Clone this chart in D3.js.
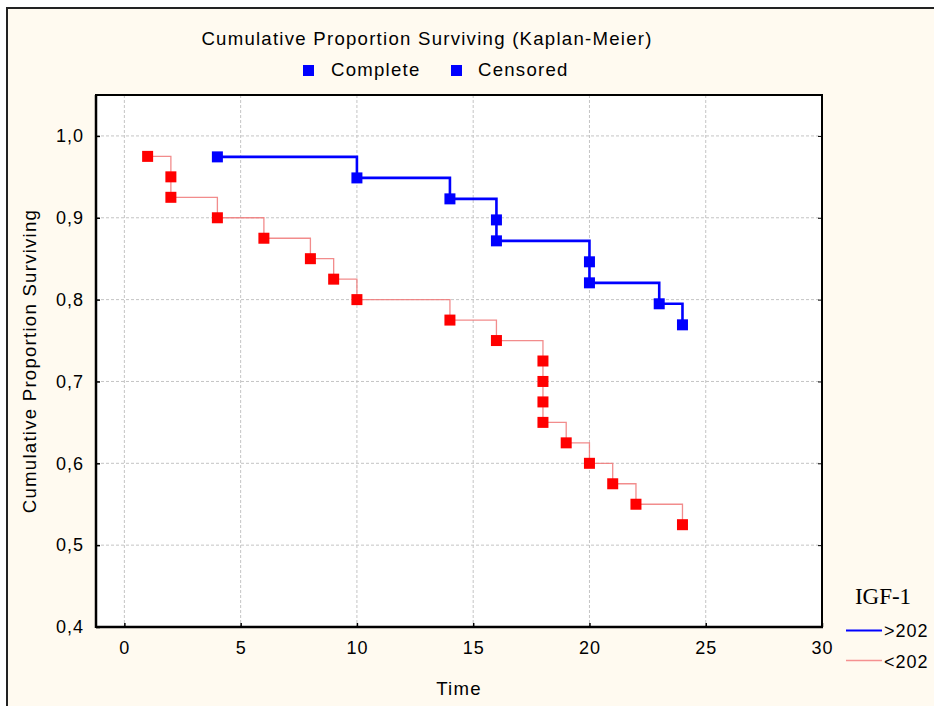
<!DOCTYPE html>
<html><head><meta charset="utf-8">
<script src="https://cdn.jsdelivr.net/npm/d3@7/dist/d3.min.js"></script>
<style>body{margin:0;background:#fff;}svg{display:block;}</style>
</head><body>
<script>
// ---- data ----
const xTicks = [0, 5, 10, 15, 20, 25, 30];
const yTicks = [0.4, 0.5, 0.6, 0.7, 0.8, 0.9, 1.0];
const yTickLabels = ["0,4", "0,5", "0,6", "0,7", "0,8", "0,9", "1,0"];
const highTimes = [4, 10, 14, 16, 16, 20, 20, 23, 24];
const highSurv = [0.9744, 0.9487, 0.9231, 0.8974, 0.8718, 0.8462, 0.8205, 0.7949, 0.7692];
const lowTimes = [1, 2, 2, 4, 6, 8, 9, 10, 14, 16, 18, 18, 18, 18, 19, 20, 21, 22, 24];
const lowSurv = [0.975, 0.95, 0.925, 0.9, 0.875, 0.85, 0.825, 0.8, 0.775, 0.75, 0.725, 0.7, 0.675, 0.65, 0.625, 0.6, 0.575, 0.55, 0.525];
const groupNames = [">202", "<202"];
const legendTop = ["Complete", "Censored"];
const titleText = "Cumulative Proportion Surviving (Kaplan-Meier)";
const xLabel = "Time";
const yLabel = "Cumulative Proportion Surviving";
const legendTitle = "IGF-1";

const W = 934, H = 706;
const svg = d3.select("body").append("svg").attr("width", W).attr("height", H);
const font = "'Liberation Sans', Arial, sans-serif";

// outer frame
svg.append("rect").attr("x", 7).attr("y", 8).attr("width", W + 10).attr("height", H + 10)
  .attr("fill", "#fffaf0").attr("stroke", "#222").attr("stroke-width", 2);

const L = 96, T = 95, R = 822, B = 627;
const x = d3.scaleLinear().domain([-1.22, 30]).range([L, R]);
const y = d3.scaleLinear().domain([0.4, 1.05]).range([B, T]);

svg.append("rect").attr("x", L).attr("y", T).attr("width", R - L).attr("height", B - T).attr("fill", "#fff");

// grid
const g = svg.append("g");
g.selectAll(".vg").data(xTicks.filter(d => d < 30)).join("line")
  .attr("x1", d => x(d)).attr("x2", d => x(d)).attr("y1", T).attr("y2", B)
  .attr("stroke", "#c4c4c4").attr("stroke-width", 1).attr("stroke-dasharray", "3,2");
g.selectAll(".hg").data(yTicks.filter(d => d > 0.4)).join("line")
  .attr("x1", L).attr("x2", R).attr("y1", d => y(d)).attr("y2", d => y(d))
  .attr("stroke", "#c4c4c4").attr("stroke-width", 1).attr("stroke-dasharray", "3,2");

// axes
const xAxis = d3.axisBottom(x).tickValues(xTicks).tickSize(-4).tickPadding(14);
const yAxis = d3.axisLeft(y).tickValues(yTicks).tickSize(-4).tickPadding(12).tickFormat((d, i) => yTickLabels[i]);
const xa = svg.append("g").attr("transform", `translate(0,${B})`).call(xAxis);
const ya = svg.append("g").attr("transform", `translate(${L},0)`).call(yAxis);
svg.append("g").attr("transform", `translate(${R},0)`).call(d3.axisRight(y).tickValues(yTicks).tickSize(-4).tickFormat(""));
[xa, ya].forEach(a => {
  a.select(".domain").remove();
  a.selectAll(".tick line").attr("stroke", "#000").attr("stroke-width", 1.5);
  a.selectAll("text").attr("font-family", font).attr("font-size", 18).attr("letter-spacing", 1).attr("fill", "#000");
});
svg.selectAll(".domain").remove();
svg.append("rect").attr("x", L).attr("y", T).attr("width", R - L).attr("height", B - T)
  .attr("fill", "none").attr("stroke", "#000").attr("stroke-width", 2);
svg.append("line").attr("x1", L).attr("x2", L).attr("y1", T).attr("y2", B + 1).attr("stroke", "#000").attr("stroke-width", 2.5);
svg.append("line").attr("x1", L).attr("x2", R + 1).attr("y1", B).attr("y2", B).attr("stroke", "#000").attr("stroke-width", 2.5);

// lines
const line = d3.line().curve(d3.curveStepAfter).x(d => x(d[0])).y(d => y(d[1]));
const lowData = lowTimes.map((t, i) => [t, lowSurv[i]]);
const highData = highTimes.map((t, i) => [t, highSurv[i]]);
svg.append("path").datum(lowData).attr("d", line).attr("fill", "none").attr("stroke", "#f07878").attr("stroke-width", 1.3).attr("stroke-opacity", 0.85);
svg.append("path").datum(highData).attr("d", line).attr("fill", "none").attr("stroke", "#0000ff").attr("stroke-width", 2.6);

const ms = 11;
svg.selectAll(".mh").data(highData).join("rect")
  .attr("x", d => x(d[0]) - ms / 2).attr("y", d => y(d[1]) - ms / 2).attr("width", ms).attr("height", ms).attr("fill", "#0000ff");
svg.selectAll(".ml").data(lowData).join("rect")
  .attr("x", d => x(d[0]) - ms / 2).attr("y", d => y(d[1]) - ms / 2).attr("width", ms).attr("height", ms).attr("fill", "#ff0000");

// titles
const txt = (t, xx, yy, opts = {}) => svg.append("text").text(t).attr("x", xx).attr("y", yy)
  .attr("font-family", opts.family || font).attr("font-size", opts.size || 18.6)
  .attr("letter-spacing", opts.ls === undefined ? 1.25 : opts.ls)
  .attr("text-anchor", opts.anchor || "start").attr("fill", "#000");
txt(titleText, 427, 45, { anchor: "middle" });
// top legend
svg.append("rect").attr("x", 303).attr("y", 65).attr("width", 11).attr("height", 11).attr("fill", "#0000ff");
txt(legendTop[0], 331, 76);
svg.append("rect").attr("x", 451).attr("y", 65).attr("width", 11).attr("height", 11).attr("fill", "#0000ff");
txt(legendTop[1], 478, 76);

txt(xLabel, 459, 695, { anchor: "middle" });
svg.append("text").text(yLabel).attr("transform", `translate(36,${(T + B) / 2}) rotate(-90)`)
  .attr("text-anchor", "middle").attr("font-family", font).attr("font-size", 18.6).attr("letter-spacing", 1.25);

// group legend
txt(legendTitle, 883, 604, { family: "'Liberation Serif', 'Times New Roman', serif", size: 23, ls: 0, anchor: "middle" });
svg.append("line").attr("x1", 846).attr("x2", 882).attr("y1", 630.5).attr("y2", 630.5).attr("stroke", "#0000ff").attr("stroke-width", 2);
svg.append("line").attr("x1", 846).attr("x2", 882).attr("y1", 660.5).attr("y2", 660.5).attr("stroke", "#f59090").attr("stroke-width", 1.5);
txt(groupNames[0], 884, 637, { size: 18, ls: 1 });
txt(groupNames[1], 884, 668, { size: 18, ls: 1 });
</script>
</body></html>
